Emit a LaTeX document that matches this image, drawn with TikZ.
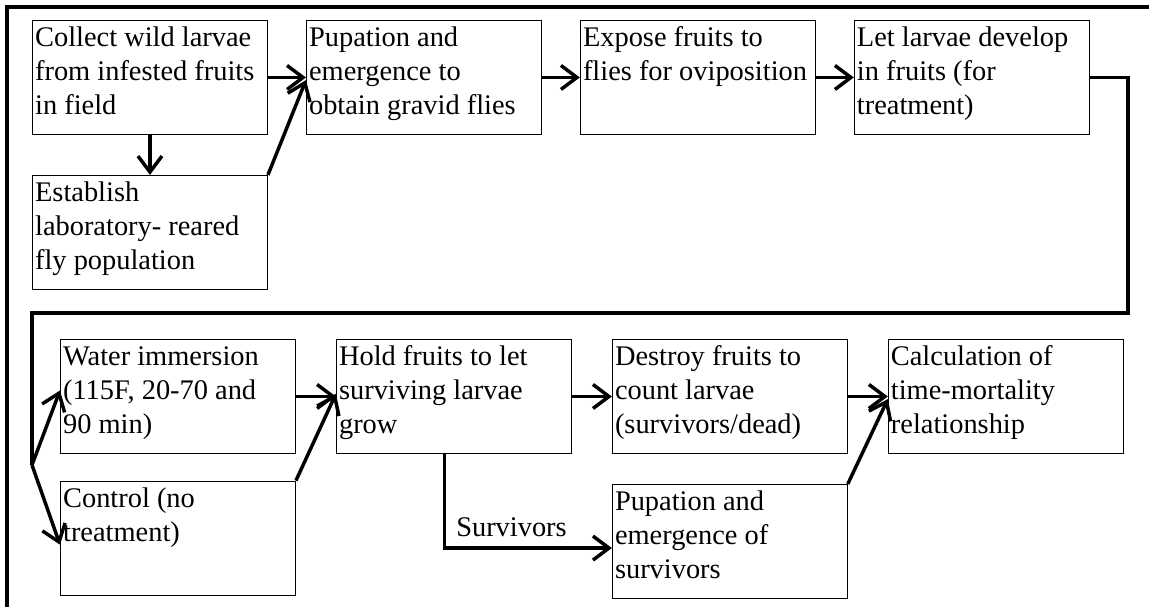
\documentclass[tikz,border=0pt]{standalone}
\usepackage{fontspec}
\setmainfont{Liberation Serif}
\usetikzlibrary{arrows.meta, positioning}

\begin{document}
\begin{tikzpicture}[
    x=0.75pt, y=-0.75pt,
    node distance=30pt,
    block/.style={draw, rectangle, line width=0.7pt, inner sep=2pt,
                  execute at begin node={\begin{minipage}[t][81.5pt][t]{172.25pt}%
                      \raggedright\fontsize{21.3pt}{25.5pt}\selectfont\strut},
                  execute at end node={\end{minipage}}},
    arrow/.style={-{Straight Barb[length=12pt, width=18pt]}, line width=2.6pt},
    link/.style={line width=2.6pt},
    frame/.style={line width=2.4pt},
    tag/.style={font=\fontsize{21.3pt}{25.5pt}\selectfont}
]
\useasboundingbox (0,0) rectangle (1149,607);

% Frame
\draw[frame] (7,607) -- (7,7) -- (1149,7);

% Top row
\node[block, anchor=north west] (collect) at (32,20) {Collect wild larvae\\from infested fruits\\in field};
\node[block, right=28.5pt of collect] (gravid) {Pupation and\\emergence to\\obtain gravid flies};
\node[block, right=28.5pt of gravid] (expose) {Expose fruits to\\flies for oviposition};
\node[block, right=28.5pt of expose] (develop) {Let larvae develop\\in fruits (for\\treatment)};
\node[block, below=of collect] (establish) {Establish\\laboratory- reared\\fly population};

% Bottom row
\node[block, anchor=north west] (water) at (60,339) {Water immersion\\(115F, 20-70 and\\90 min)};
\node[block, below=20pt of water] (control) {Control (no\\treatment)};
\node[block, right=of water] (hold) {Hold fruits to let\\surviving larvae\\grow};
\node[block, right=of hold] (destroy) {Destroy fruits to\\count larvae\\(survivors/dead)};
\node[block, right=of destroy] (calc) {Calculation of\\time-mortality\\relationship};
\node[block, below=22.5pt of destroy] (emerge) {Pupation and\\emergence of\\survivors};

% Loop back to the second row
\coordinate (turn) at (1128,313);
\coordinate (back) at (32,313);
\coordinate (split) at (32,465);

% Arrows
\draw[arrow] (collect) -- (gravid);
\draw[arrow] (collect) -- (establish);
\draw[arrow] (establish.north east) -- ([yshift=-2pt]gravid.west);
\draw[arrow] (gravid) -- (expose);
\draw[arrow] (expose) -- (develop);
\draw[link] (develop.east) -| (turn) -- (back) -- (split);
\draw[arrow] (split) -- ([yshift=4.5pt]water.west);
\draw[arrow] (split) -- ([yshift=-5pt]control.west);
\draw[arrow] (water) -- (hold);
\draw[arrow] (control.north east) -- ([yshift=2pt]hold.west);
\draw[arrow] (hold) -- (destroy);
\draw[arrow] ([xshift=-7pt]hold.south) |- node[tag, above=3.5pt, pos=0.7] {Survivors} ([yshift=-5pt]emerge.west);
\draw[arrow] (destroy) -- (calc);
\draw[arrow] (emerge.north east) -- ([yshift=-2pt]calc.west);

\end{tikzpicture}
\end{document}
